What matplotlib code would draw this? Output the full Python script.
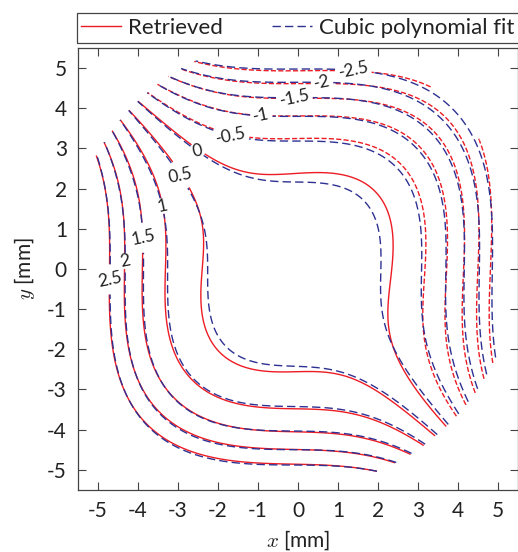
import numpy as np
import matplotlib
matplotlib.use("Agg")
import matplotlib.pyplot as plt
from matplotlib.lines import Line2D
from matplotlib.patches import Rectangle

# ---------------- data ----------------
# contour levels of the phase map
levels = [-2.5, -2.0, -1.5, -1.0, -0.5, 0.0, 0.5, 1.0, 1.5, 2.0, 2.5]

# cubic polynomial fit coefficients, monomial order:
# 1, x, y, x^2, xy, y^2, x^3, x^2y, xy^2, y^3
fit_coeffs = [2.4411e-01, -1.0805e-02, 9.4782e-06,
              -5.2258e-03, 1.8385e-03, -7.0457e-03,
              -2.2407e-02, 7.5000e-04, 4.1743e-04, -2.0843e-02]

# retrieved map, degree-5 expansion, same monomial ordering
# (1 | x y | x2 xy y2 | x3 x2y xy2 y3 | x4 .. y4 | x5 .. y5)
retrieved_coeffs = [2.8531e-01,
                    4.4105e-02, 4.2128e-02,
                    -7.7287e-03, 2.1746e-03, -1.2042e-02,
                    -2.7270e-02, -1.2431e-03, -5.2036e-03, -2.3990e-02,
                    -6.5373e-05, 1.5690e-04, 3.8904e-04, 1.0224e-04, 1.0480e-04,
                    9.8168e-05, 5.7679e-05, 2.3654e-04, 1.3511e-04, 1.2473e-04, 4.0880e-05]

# circular aperture of the measurement [mm]
aperture_center = (-0.14, 0.14)
aperture_radius = 5.6

# contour label anchor points [mm]
label_pos = [(-4.71, -0.26), (-4.33, 0.20), (-3.84, 0.78), (-3.38, 1.57),
             (-2.94, 2.34), (-2.53, 2.93), (-1.67, 3.35), (-0.92, 3.75),
             (-0.09, 4.18), (0.60, 4.57), (1.38, 4.88)]

ticks = [-5, -4, -3, -2, -1, 0, 1, 2, 3, 4, 5]
legend_labels = ['Retrieved', 'Cubic polynomial fit']

# ---------------- plotting ----------------
plt.rcParams['font.family'] = ['Lato', 'DejaVu Sans']
plt.rcParams['mathtext.fontset'] = 'cm'
plt.rcParams['axes.unicode_minus'] = False

RED = '#ed1c24'
BLUE = '#2e3192'
TXT = '#222222'
EDGE = '#444444'
DASH = (0, (6, 3))


def poly(x, y, coeffs):
    out = np.zeros_like(x)
    k = 0
    n = 0
    while k < len(coeffs):
        for j in range(n + 1):
            out = out + coeffs[k] * x ** (n - j) * y ** j
            k += 1
        n += 1
    return out


fig = plt.figure(figsize=(5.18, 5.52), dpi=100)
ax = fig.add_axes([0.1506, 0.1125, 0.8494, 0.8005])

g = np.linspace(-5.5, 5.5, 500)
X, Y = np.meshgrid(g, g)
outside = (X - aperture_center[0]) ** 2 + (Y - aperture_center[1]) ** 2 > aperture_radius ** 2
F_ret = np.ma.array(poly(X, Y, retrieved_coeffs), mask=outside)
F_fit = np.ma.array(poly(X, Y, fit_coeffs), mask=outside)

cs_r = ax.contour(X, Y, F_ret, levels=levels, colors=RED, linewidths=1.0)
cs_f = ax.contour(X, Y, F_fit, levels=levels, colors=BLUE, linewidths=1.0,
                  linestyles=[DASH])

fmt = lambda v: f"{v:g}"
tr = ax.clabel(cs_r, manual=label_pos, inline=True, inline_spacing=3,
               fontsize=12.5, fmt=fmt)
for t in tr:
    t.set_visible(False)
tf = ax.clabel(cs_f, manual=label_pos, inline=True, inline_spacing=3,
               fontsize=12.5, fmt=fmt, colors=TXT)
for t in tf:
    t.set_rotation(12)

ax.set_xlim(-5.5, 5.5)
ax.set_ylim(-5.5, 5.5)
ax.set_xticks(ticks)
ax.set_yticks(ticks)
ax.tick_params(direction='in', length=6, width=0.8, top=True, right=True,
               labelsize=15, pad=8, colors=EDGE, labelcolor=TXT)
for s in ax.spines.values():
    s.set_color(EDGE)
    s.set_linewidth(0.9)

ax.set_xlabel(r'$x$ [mm]', fontsize=15, color=TXT, labelpad=5)
ax.set_ylabel(r'$y$ [mm]', fontsize=15, color=TXT, labelpad=7)

# legend above the axes, boxed by a frame running off the right edge
handles = [Line2D([], [], color=RED, lw=1.0),
           Line2D([], [], color=BLUE, lw=1.0, linestyle=DASH)]
leg = ax.legend(handles, legend_labels,
                loc='lower left', bbox_to_anchor=(-0.004, 1.012),
                ncol=2, fontsize=16, frameon=False,
                borderaxespad=0.0, borderpad=0.2,
                handlelength=1.8, handletextpad=0.32, columnspacing=2.2)
for t in leg.get_texts():
    t.set_color(TXT)
fig.patches.append(Rectangle((77 / 518, 1 - 43.3 / 552), 1.05, 30.6 / 552,
                             transform=fig.transFigure, fill=False,
                             edgecolor=EDGE, linewidth=0.9, clip_on=False))

fig.savefig("out.png", dpi=100)
